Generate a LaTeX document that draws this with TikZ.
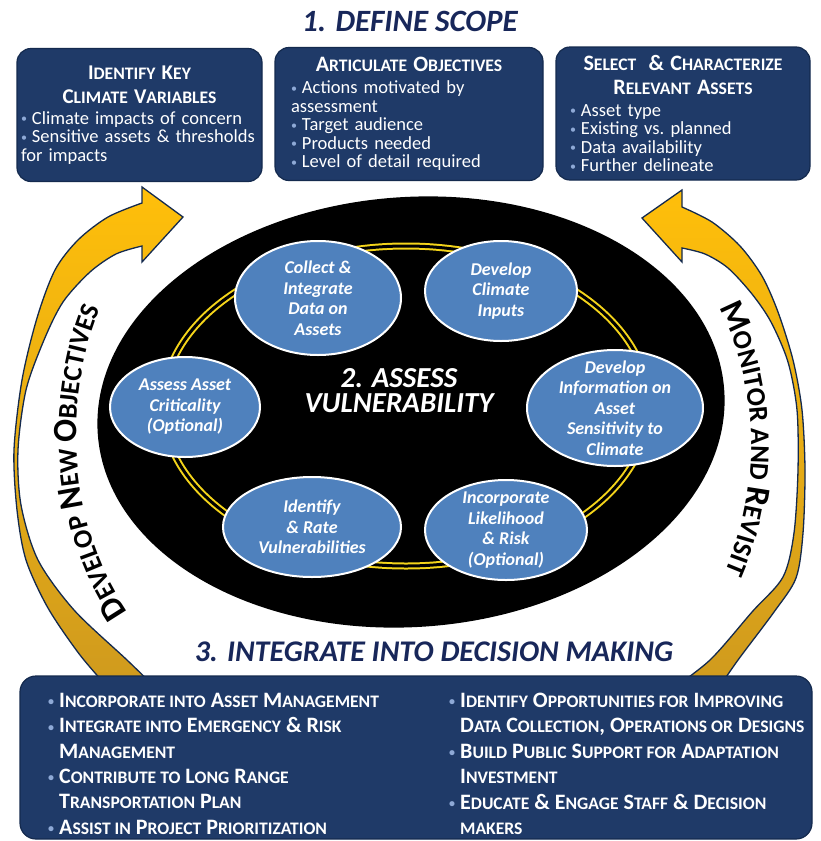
\documentclass[tikz,border=0pt]{standalone}
\usepackage{fontspec}
\setmainfont{Carlito}
\usetikzlibrary{shapes.geometric, decorations.text}
\definecolor{navy}{HTML}{1F3A68}
\definecolor{navyline}{HTML}{142A4E}
\definecolor{titlenavy}{HTML}{18275A}
\definecolor{stepblue}{HTML}{4F81BD}
\definecolor{ringyellow}{HTML}{F4D41A}
\definecolor{goldtop}{HTML}{FFBF0A}
\definecolor{goldbot}{HTML}{CF9A1E}
\definecolor{bulletblue}{HTML}{8EA9D6}

\newcommand{\smc}[1]{{\fontsize{17.6}{17.6}\selectfont #1}}
\newcommand{\bul}{{\color{bulletblue}\raisebox{1.5pt}{\fontsize{12}{12}\selectfont\textbullet}}\hspace{5pt}}
\newcommand{\bulsp}{\hphantom{\bul}}
\newcommand{\arcbig}{\fontsize{34}{34}\selectfont\bfseries}
\newcommand{\arcsmall}{\fontsize{27}{27}\selectfont\bfseries}

\tikzset{
  topbox/.style={draw=navyline, fill=navy, rounded corners=14pt, line width=1.2pt,
                 text=white, align=left, inner xsep=4pt, inner ysep=4pt,
                 minimum height=133pt, font=\fontsize{18.5}{18.5}\selectfont},
  intbox/.style={draw=navyline, fill=navy, rounded corners=16pt, line width=1.2pt,
                 minimum width=792pt, minimum height=163pt},
  intcol/.style={text=white, align=left, inner sep=0pt, anchor=north west,
                 font=\bfseries\fontsize{22}{25.4}\selectfont},
  steptitle/.style={text=titlenavy, inner sep=0pt,
                    font=\bfseries\itshape\fontsize{31}{31}\selectfont},
  assessell/.style={ellipse, fill=black, minimum width=628pt, minimum height=430pt,
                    rotate=4, inner sep=0pt},
  ringline/.style={draw=ringyellow, line width=2pt, double=black, double distance=3pt},
  stepell/.style={ellipse, fill=stepblue, draw=white, line width=2pt, text=white,
                  align=center, inner sep=-10pt,
                  font=\bfseries\itshape\fontsize{18}{20.5}\selectfont},
  assesslbl/.style={text=white, align=center, inner sep=0pt,
                    font=\bfseries\itshape\fontsize{29}{25}\selectfont},
  goldarrow/.style={draw=navyline, line width=1.3pt, top color=goldtop,
                    bottom color=goldbot, line join=miter},
}

\begin{document}
\begin{tikzpicture}[x=1pt, y=-1pt]

\useasboundingbox (0,0) rectangle (820,841);
\fill[white] (0,0) rectangle (820,841);

%% ====================  LOOP ARROWS  ====================

\path[goldarrow] (183,217) -- (142,187)
  -- plot[smooth] coordinates {(142,203) (108,217) (78,240) (55,270) (37,318) (22,380)
       (14,450) (17,510) (26,560) (48,608) (80,655) (112,692)}
  -- plot[smooth] coordinates {(160,692) (127,660) (74,610) (38,560) (21,505) (18,450)
       (26,390) (44,340) (63,302) (90,272) (116,254) (142,246)}
  -- (142,262) -- cycle;

\path[goldarrow] (642,218) -- (682,190)
  -- plot[smooth] coordinates {(682,207) (712,222) (740,246) (762,276) (778,312) (793,360)
       (802,410) (805,470) (803,533) (796,578) (774,612) (738,660) (716,692)}
  -- plot[smooth] coordinates {(668,692) (710,660) (752,612) (783,577) (794,533) (798,470)
       (797,410) (788,362) (771,322) (752,294) (728,268) (705,254) (682,248)}
  -- (682,262) -- cycle;

\path[decorate, decoration={text along path,
  text={|\arcbig|D|\arcsmall|EVELOP |\arcbig|N|\arcsmall|EW |\arcbig|O|\arcsmall|BJECTIVES}}]
  (128,612) .. controls (64,520) and (60,380) .. (112,284);

\path[decorate, decoration={text along path,
  text={|\arcbig|M|\arcsmall|ONITOR AND |\arcbig|R|\arcsmall|EVISIT}}]
  (719,308) .. controls (762,387) and (764,507) .. (712,598);

%% ====================  1. DEFINE SCOPE  ====================

\node[steptitle] (scope) at (410,21) {1. DEFINE SCOPE};

\node[topbox, minimum width=245pt, text width=237pt] (climvar) at (139.5,115)
  {{\centering\bfseries\fontsize{21}{24}\selectfont
    I\smc{DENTIFY} K\smc{EY}\\C\smc{LIMATE} V\smc{ARIABLES}\par}\vspace{2pt}
   \bul Climate impacts of concern\\
   \bul Sensitive assets \& thresholds\\
   for impacts};

\node[topbox, minimum width=268pt, text width=260pt] (objectives) at (409,114)
  {{\centering\bfseries\fontsize{22}{24}\selectfont
    A\smc{RTICULATE} O\smc{BJECTIVES}\par}\vspace{4pt}
   {\leftskip=12pt
   \bul Actions motivated by\\
   assessment\\
   \bul Target audience\\
   \bul Products needed\\
   \bul Level of detail required\par}};

\node[topbox, minimum width=254pt, text width=246pt] (assets) at (683,113.5)
  {{\centering\bfseries\fontsize{22}{24}\selectfont
    S\smc{ELECT}\ \ \& C\smc{HARACTERIZE}\\R\smc{ELEVANT} A\smc{SSETS}\par}\vspace{3pt}
   {\leftskip=10pt
   \bul Asset type\\
   \bul Existing vs.\ planned\\
   \bul Data availability\\
   \bul Further delineate\par}};

%% ====================  2. ASSESS VULNERABILITY  ====================

\node[assessell] (assess) at (411,412) {};
\draw[ringline] (406,406) ellipse [x radius=243pt, y radius=160pt];

\node[assesslbl] (assesstitle) at (399,391) {2. ASSESS\\VULNERABILITY};

\node[stepell, minimum width=166pt, minimum height=114pt] (collect) at (318,298)
  {Collect \&\\Integrate\\Data on\\Assets};
\node[stepell, minimum width=152pt, minimum height=100pt] (inputs) at (501,291)
  {Develop\\Climate\\Inputs};
\node[stepell, minimum width=176pt, minimum height=116pt] (sensitivity) at (615,408)
  {Develop\\Information on\\Asset\\Sensitivity to\\Climate};
\node[stepell, minimum width=162pt, minimum height=100pt] (likelihood) at (506,530)
  {Incorporate\\Likelihood\\\& Risk\\(Optional)};
\node[stepell, minimum width=178pt, minimum height=100pt] (rate) at (312,527)
  {Identify\\\& Rate\\Vulnerabilities};
\node[stepell, minimum width=150pt, minimum height=100pt] (criticality) at (185,407)
  {Assess Asset\\Criticality\\(Optional)};

%% ====================  3. INTEGRATE INTO DECISION MAKING  ====================

\node[steptitle, font=\bfseries\itshape\fontsize{30}{30}\selectfont] (decide) at (434,652)
  {3. INTEGRATE INTO DECISION MAKING};

\node[intbox] (integrate) at (416,757.5) {};

\node[intcol] (intleft) at (48,692.8)
  {\bul I\smc{NCORPORATE INTO} A\smc{SSET} M\smc{ANAGEMENT}\\
   \bul I\smc{NTEGRATE INTO} E\smc{MERGENCY} \& R\smc{ISK}\\
   \bulsp M\smc{ANAGEMENT}\\
   \bul C\smc{ONTRIBUTE TO} L\smc{ONG} R\smc{ANGE}\\
   \bulsp T\smc{RANSPORTATION} P\smc{LAN}\\
   \bul A\smc{SSIST IN} P\smc{ROJECT} P\smc{RIORITIZATION}};

\node[intcol] (intright) at (449,692.8)
  {\bul I\smc{DENTIFY} O\smc{PPORTUNITIES FOR} I\smc{MPROVING}\\
   \bulsp D\smc{ATA} C\smc{OLLECTION}, O\smc{PERATIONS OR} D\smc{ESIGNS}\\
   \bul B\smc{UILD} P\smc{UBLIC} S\smc{UPPORT FOR} A\smc{DAPTATION}\\
   \bulsp I\smc{NVESTMENT}\\
   \bul E\smc{DUCATE} \& E\smc{NGAGE} S\smc{TAFF} \& D\smc{ECISION}\\
   \bulsp \smc{MAKERS}};

\end{tikzpicture}
\end{document}
